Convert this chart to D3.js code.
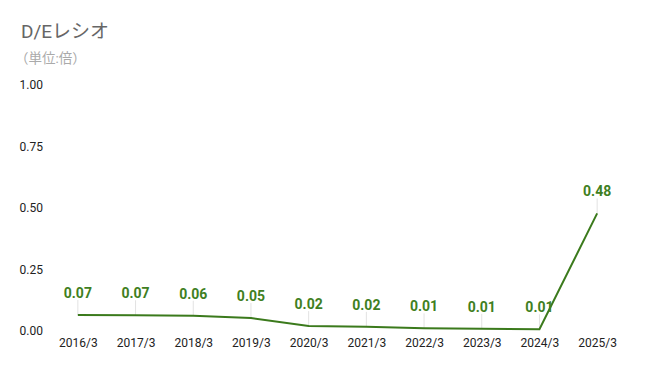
<!DOCTYPE html>
<html>
<head>
<meta charset="utf-8">
<script src="https://cdn.jsdelivr.net/npm/d3@7"></script>
<style>
  body { margin: 0; background: #fff; }
  text { font-family: Roboto, "Noto Sans CJK JP", sans-serif; }
</style>
</head>
<body>
<div id="chart"></div>
<script>
// D/E ratio by fiscal year
let years = ['2016/3', '2017/3', '2018/3', '2019/3', '2020/3', '2021/3', '2022/3', '2023/3', '2024/3', '2025/3']
let values = [0.065, 0.064, 0.062, 0.053, 0.02, 0.017, 0.011, 0.009, 0.007, 0.478]
let labels = ['0.07', '0.07', '0.06', '0.05', '0.02', '0.02', '0.01', '0.01', '0.01', '0.48']
let yTicks = [0, 0.25, 0.5, 0.75, 1]

let width = 645
let height = 371
let margin = { top: 85, left: 49, right: 19, bottom: 40 }

let svg = d3
  .select('#chart')
  .append('svg')
  .attr('width', width)
  .attr('height', height)

svg.append('text')
  .attr('x', 21)
  .attr('y', 38)
  .attr('font-size', 19)
  .attr('fill', '#666')
  .attr('font-family', '"Liberation Sans", Arial, "Noto Sans CJK JP", sans-serif')
  .text('D/Eレシオ')

svg.append('text')
  .attr('x', 15)
  .attr('y', 63)
  .attr('font-size', 13.5)
  .attr('fill', '#aaa')
  .text('（単位:倍）')

let xPositionScale = d3.scalePoint()
  .domain(years)
  .range([margin.left, width - margin.right])
  .padding(0.5)

let yPositionScale = d3.scaleLinear()
  .domain([0, 1])
  .range([331, margin.top])

// y axis labels, no line
let yAxis = svg.append('g')
  .attr('transform', 'translate(43,0)')
  .call(d3.axisLeft(yPositionScale).tickValues(yTicks).tickFormat(d3.format('.2f')).tickSize(0).tickPadding(0))
yAxis.select('.domain').remove()
yAxis.selectAll('text').attr('font-size', 12).attr('fill', '#222').attr('font-family', 'Roboto, sans-serif')

let xAxis = svg.append('g')
  .attr('transform', 'translate(0,338)')
  .call(d3.axisBottom(xPositionScale).tickSize(0).tickPadding(0))
xAxis.select('.domain').remove()
xAxis.selectAll('text').attr('font-size', 12).attr('fill', '#222').attr('font-family', 'Roboto, sans-serif')

let points = years.map((y, i) => ({ year: y, value: values[i], label: labels[i] }))

// leader lines from label to point
svg.selectAll('.leader')
  .data(points)
  .enter()
  .append('line')
  .attr('class', 'leader')
  .attr('x1', d => xPositionScale(d.year))
  .attr('x2', d => xPositionScale(d.year))
  .attr('y1', d => yPositionScale(d.value) - 15)
  .attr('y2', d => yPositionScale(d.value))
  .attr('stroke', '#e2e2e2')
  .attr('stroke-width', 1)

let line = d3.line()
  .x(d => xPositionScale(d.year))
  .y(d => yPositionScale(d.value))

svg.append('path')
  .datum(points)
  .attr('d', line)
  .attr('fill', 'none')
  .attr('stroke', '#3b7a1c')
  .attr('stroke-width', 2)

svg.selectAll('.value-label')
  .data(points)
  .enter()
  .append('text')
  .attr('class', 'value-label')
  .attr('x', d => xPositionScale(d.year))
  .attr('y', d => yPositionScale(d.value) - 17)
  .attr('text-anchor', 'middle')
  .attr('font-size', 14)
  .attr('font-weight', 'bold')
  .attr('fill', '#3f7f22')
  .text(d => d.label)
</script>
</body>
</html>
